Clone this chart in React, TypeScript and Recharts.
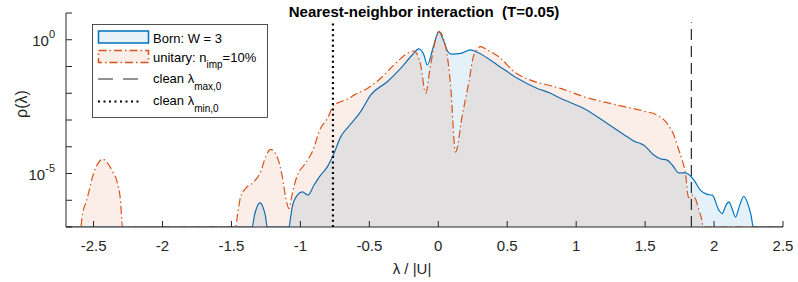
import React from "react";
import { ComposedChart, Area, Line, XAxis, YAxis } from "recharts";

// Born: W = 3  (x in units of |U|, log10 of rho)
const bornX = [
  -2.7, -1.349, -1.335, -1.315, -1.294, -1.272, -1.253, -1.241, -1.083, -1.07,
  -1.059, -1.04, -1.022, -0.986, -0.946, -0.902, -0.853, -0.805, -0.757, -0.708,
  -0.66, -0.563, -0.491, -0.37, -0.273, -0.189, -0.141, -0.104, -0.08, -0.032,
  0.004, 0.041, 0.07, 0.1, 0.162, 0.234, 0.283, 0.428, 0.573, 0.718, 0.814,
  0.887, 1.056, 1.226, 1.371, 1.419, 1.466, 1.491, 1.563, 1.61, 1.66, 1.7,
  1.745, 1.793, 1.854, 1.902, 1.95, 1.987, 2.035, 2.059, 2.085, 2.107, 2.13,
  2.156, 2.185, 2.216, 2.252, 2.27, 2.284, 2.5,
];
const bornLog = [
  -7, -7, -6.6, -6.25, -6.1, -6.25, -6.6, -7, -7, -6.6,
  -6.25, -5.95, -5.81, -5.69, -5.81, -5.44, -5.06, -4.75, -4.25, -3.63,
  -3.3, -2.69, -2.07, -1.57, -1.07, -0.57, -0.34, -0.57, -0.94, -0.19,
  0.3, -0.07, -0.45, -0.54, -0.51, -0.38, -0.47, -0.94, -1.44, -1.82, -2.0,
  -2.19, -2.57, -3.13, -3.63, -3.79, -3.88, -3.94, -4.31, -4.45, -4.5, -4.7,
  -4.98, -4.98, -5.25, -5.63, -5.78, -5.81, -6.37, -6.5, -6.2, -6.06, -6.3,
  -6.63, -6.2, -5.85, -6.25, -6.6, -7, -7,
];

// unitary: n_imp = 10%
const unitaryX = [
  -2.7, -2.594, -2.58, -2.55, -2.5, -2.465, -2.434, -2.4, -2.36, -2.33,
  -2.305, -2.29, -1.47, -1.455, -1.434, -1.398, -1.337, -1.289, -1.25, -1.216,
  -1.168, -1.131, -1.107, -1.083, -1.059, -1.022, -0.974, -0.914, -0.853, -0.805,
  -0.757, -0.708, -0.65, -0.612, -0.515, -0.418, -0.322, -0.225, -0.177, -0.128,
  -0.092, -0.056, 0.004, 0.053, 0.089, 0.125, 0.174, 0.222, 0.258, 0.307,
  0.355, 0.452, 0.548, 0.669, 0.814, 0.887, 1.056, 1.298, 1.491, 1.588,
  1.66, 1.709, 1.745, 1.769, 1.793, 1.815, 1.84, 1.866, 1.89, 1.91, 1.922, 2.5,
];
const unitaryLog = [
  -7, -7, -6.5, -6.0, -5.0, -4.6, -4.46, -4.6, -4.95, -5.3,
  -6.0, -7, -7, -6.5, -5.88, -5.56, -5.31, -4.94, -4.35, -4.1,
  -4.38, -5.13, -5.88, -6.31, -5.75, -5.06, -4.69, -4.19, -3.3, -2.95,
  -2.44, -2.32, -2.2, -2.07, -1.82, -1.44, -0.94, -0.51, -0.42, -0.94,
  -2.0, -0.94, 0.3, -0.25, -1.69, -4.2, -2.82, -1.57, -0.57, -0.26,
  -0.38, -0.69, -1.19, -1.51, -1.72, -1.82, -2.13, -2.44, -2.67, -2.82,
  -3.13, -3.57, -4.13, -4.5, -5.0, -5.9, -5.8, -5.95, -6.37, -6.7, -7, -7,
];

const lambdaMax0 = 1.835;
const lambdaMin0 = -0.764;
const refLineLog = [-7, 0.65];

const xTicks = [-2.5, -2, -1.5, -1, -0.5, 0, 0.5, 1, 1.5, 2, 2.5];
const yTickExps = [-7, -6, -5, -4, -3, -2, -1, 0, 1];
const yLabelExps = [0, -5];

const BLUE = "#0072BD";
const ORANGE = "#D95319";
const AX = "#262626";
const FONT = "'Liberation Sans', Arial, Helvetica, sans-serif";

const bornData = bornX.map((x, i) => ({ x, rho: 10 ** bornLog[i] }));
const unitaryData = unitaryX.map((x, i) => ({ x, rho: 10 ** unitaryLog[i] }));
const maxLine = refLineLog.map((v) => ({ x: lambdaMax0, rho: 10 ** v }));
const minLine = refLineLog.map((v) => ({ x: lambdaMin0, rho: 10 ** v }));

const XTick = (props: any) => {
  const { x, y, payload } = props;
  return (
    <g>
      <line x1={x} x2={x} y1={y} y2={y - 6} stroke={AX} />
      <text x={x} y={y + 24} textAnchor="middle" fontSize={15} fill={AX} fontFamily={FONT}>
        {String(payload.value)}
      </text>
    </g>
  );
};

const YTick = (props: any) => {
  const { x, y, payload } = props;
  const e = Math.round(Math.log10(payload.value));
  return (
    <g>
      <line x1={x} x2={x + 6} y1={y} y2={y} stroke={AX} />
      {yLabelExps.includes(e) && (
        <text x={x - 11} y={y + 6} textAnchor="end" fontSize={15} fill={AX} fontFamily={FONT}>
          10
          <tspan dy={-8} fontSize={11}>
            {e}
          </tspan>
        </text>
      )}
    </g>
  );
};

export default function App() {
  return (
    <div style={{ position: "relative", width: 798, height: 282 }}>
      <style>{"body{margin:0}"}</style>
      <ComposedChart
        width={798}
        height={282}
        margin={{ top: 13, right: 15, bottom: 0, left: 0 }}
      >
        <XAxis
          dataKey="x"
          type="number"
          domain={[-2.7, 2.5]}
          ticks={xTicks}
          interval={0}
          height={55}
          tickLine={false}
          tickSize={0}
          tickMargin={0}
          tick={<XTick />}
          axisLine={{ stroke: AX }}
          allowDataOverflow
        />
        <YAxis
          type="number"
          scale="log"
          domain={[1e-7, 10]}
          ticks={yTickExps.map((e) => 10 ** e)}
          interval={0}
          width={66}
          tickLine={false}
          tickSize={0}
          tickMargin={0}
          tick={<YTick />}
          axisLine={{ stroke: AX }}
          allowDataOverflow
        />
        <Area
          data={bornData}
          dataKey="rho"
          type="monotone"
          stroke={BLUE}
          strokeWidth={1.2}
          fill={BLUE}
          fillOpacity={0.1}
          dot={false}
          activeDot={false}
          isAnimationActive={false}
        />
        <Area
          data={unitaryData}
          dataKey="rho"
          type="monotone"
          stroke={ORANGE}
          strokeWidth={1.2}
          strokeDasharray="8 3 1.5 3"
          fill={ORANGE}
          fillOpacity={0.1}
          dot={false}
          activeDot={false}
          isAnimationActive={false}
        />
        <Line
          data={maxLine}
          dataKey="rho"
          type="linear"
          stroke="#000"
          strokeWidth={1}
          strokeDasharray="11 6"
          dot={false}
          activeDot={false}
          isAnimationActive={false}
        />
        <Line
          data={minLine}
          dataKey="rho"
          type="linear"
          stroke="#000"
          strokeWidth={2.2}
          strokeDasharray="2 3.3"
          dot={false}
          activeDot={false}
          isAnimationActive={false}
        />
      </ComposedChart>
      <svg
        width={798}
        height={282}
        style={{ position: "absolute", left: 0, top: 0, pointerEvents: "none" }}
        fontFamily={FONT}
      >
        <text x={424} y={17} textAnchor="middle" fontSize={15} fontWeight="bold" fill="#000" style={{ whiteSpace: "pre" }}>
          {"Nearest-neighbor interaction  (T=0.05)"}
        </text>
        <text transform="translate(27,104) rotate(-90)" textAnchor="middle" fontSize={16} fill={AX}>
          ρ(λ)
        </text>
        <text x={412} y={274} textAnchor="middle" fontSize={15} fill={AX}>
          λ / |U|
        </text>
        <g>
          <rect x={92.5} y={24.5} width={175} height={93} fill="#fff" stroke={AX} strokeWidth={0.8} />
          <rect x={98.5} y={31} width={50} height={12} fill="#e6f1f8" stroke={BLUE} strokeWidth={1.5} />
          <text x={153} y={42.5} fontSize={13} fill="#000">Born: W = 3</text>
          <rect x={98.5} y={50.5} width={50} height={12} fill="#fbeee8" stroke={ORANGE} strokeWidth={1.5} strokeDasharray="8 3 1.5 3" />
          <text x={153} y={61.5} fontSize={13} fill="#000">
            unitary: n<tspan dy={6} fontSize={10}>imp</tspan>
            <tspan dy={-6}>=10%</tspan>
          </text>
          <line x1={98} x2={142} y1={79} y2={79} stroke={AX} strokeDasharray="15 10" />
          <text x={153} y={82.5} fontSize={13} fill="#000">
            clean λ<tspan dy={7} fontSize={10}>max,0</tspan>
          </text>
          <line x1={98} x2={142} y1={101.5} y2={101.5} stroke="#000" strokeWidth={2} strokeDasharray="2 3.5" />
          <text x={153} y={104.5} fontSize={13} fill="#000">
            clean λ<tspan dy={7} fontSize={10}>min,0</tspan>
          </text>
        </g>
      </svg>
    </div>
  );
}
